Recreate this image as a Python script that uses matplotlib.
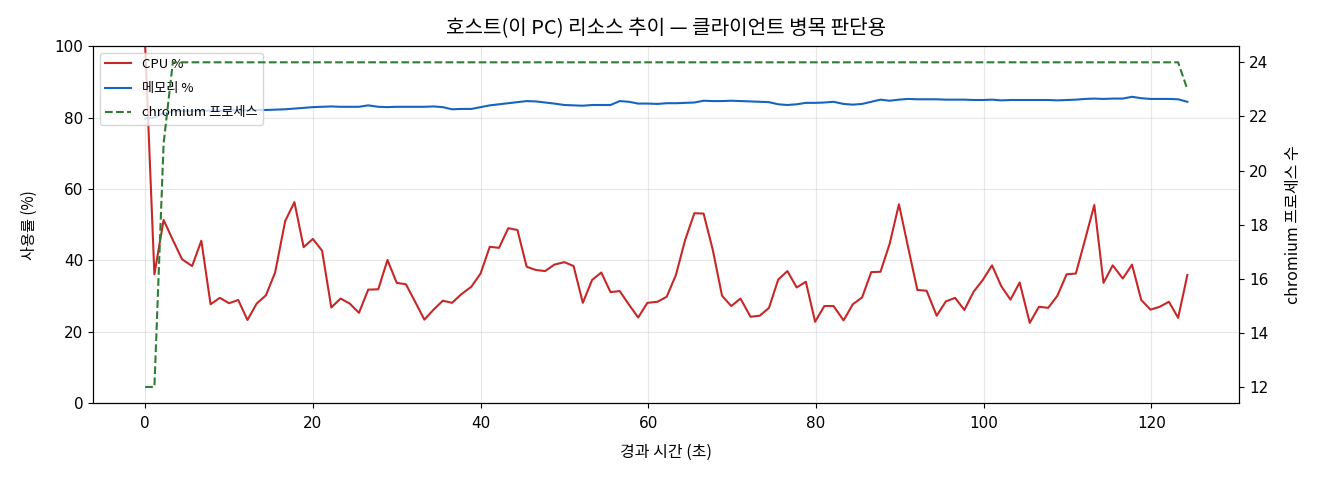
import matplotlib
matplotlib.use('Agg')
import matplotlib.pyplot as plt

plt.rcParams['font.family'] = ['Noto Sans CJK KR', 'DejaVu Sans']
plt.rcParams['axes.unicode_minus'] = False

# ── data ──────────────────────────────────────────────────────
elapsed = [0.0, 1.1, 2.2, 3.3, 4.4, 5.6, 6.7, 7.8, 8.9, 10.0,
           11.1, 12.2, 13.3, 14.4, 15.5, 16.7, 17.8, 18.9, 20.0, 21.1,
           22.2, 23.3, 24.4, 25.5, 26.6, 27.8, 28.9, 30.0, 31.1, 32.2,
           33.3, 34.4, 35.5, 36.6, 37.7, 38.9, 40.0, 41.1, 42.2, 43.3,
           44.4, 45.5, 46.6, 47.7, 48.8, 50.0, 51.1, 52.2, 53.3, 54.4,
           55.5, 56.6, 57.7, 58.8, 59.9, 61.1, 62.2, 63.3, 64.4, 65.5,
           66.6, 67.7, 68.8, 69.9, 71.0, 72.2, 73.3, 74.4, 75.5, 76.6,
           77.7, 78.8, 79.9, 81.0, 82.1, 83.3, 84.4, 85.5, 86.6, 87.7,
           88.8, 89.9, 91.0, 92.1, 93.2, 94.4, 95.5, 96.6, 97.7, 98.8,
           99.9, 101.0, 102.1, 103.2, 104.3, 105.5, 106.6, 107.7, 108.8, 109.9,
           111.0, 112.1, 113.2, 114.3, 115.4, 116.6, 117.7, 118.8, 119.9, 121.0,
           122.1, 123.2, 124.3]

cpu_pct = [100.0, 36.1, 51.3, 45.7, 40.3, 38.4, 45.5, 27.7, 29.5, 28.0,
           28.9, 23.3, 27.9, 30.2, 36.6, 51.0, 56.3, 43.7, 46.0, 42.7,
           26.8, 29.3, 27.9, 25.3, 31.8, 31.9, 40.1, 33.7, 33.3, 28.4,
           23.4, 26.2, 28.7, 28.1, 30.5, 32.6, 36.3, 43.8, 43.5, 49.0,
           48.5, 38.2, 37.3, 37.0, 38.8, 39.5, 38.4, 28.1, 34.5, 36.6,
           31.1, 31.4, 27.6, 24.0, 28.1, 28.4, 29.8, 35.9, 45.7, 53.2,
           53.1, 42.9, 30.1, 27.2, 29.3, 24.2, 24.5, 26.7, 34.6, 37.0,
           32.4, 34.0, 22.8, 27.2, 27.2, 23.2, 27.7, 29.6, 36.7, 36.8,
           44.7, 55.7, 43.6, 31.7, 31.5, 24.5, 28.5, 29.5, 26.1, 31.2,
           34.5, 38.6, 32.8, 29.0, 33.8, 22.5, 27.0, 26.7, 30.1, 36.1,
           36.3, 45.8, 55.5, 33.7, 38.6, 34.9, 38.8, 28.9, 26.2, 27.0,
           28.4, 23.9, 35.9]

mem_pct = [79.7, 80.0, 81.2, 81.7, 81.8, 81.8, 81.9, 81.9, 81.9, 82.0,
           82.0, 82.0, 82.1, 82.1, 82.2, 82.3, 82.5, 82.7, 82.9, 83.0,
           83.1, 83.0, 83.0, 83.0, 83.4, 83.0, 82.9, 83.0, 83.0, 83.0,
           83.0, 83.1, 82.9, 82.3, 82.4, 82.4, 82.9, 83.4, 83.7, 84.0,
           84.3, 84.6, 84.5, 84.2, 83.9, 83.5, 83.4, 83.3, 83.5, 83.5,
           83.5, 84.6, 84.4, 83.9, 83.9, 83.8, 84.0, 84.0, 84.1, 84.2,
           84.7, 84.6, 84.6, 84.7, 84.6, 84.5, 84.4, 84.3, 83.7, 83.5,
           83.7, 84.1, 84.1, 84.2, 84.4, 83.8, 83.6, 83.8, 84.4, 85.0,
           84.7, 85.0, 85.2, 85.1, 85.1, 85.1, 85.0, 85.0, 85.0, 84.9,
           84.9, 85.0, 84.8, 84.9, 84.9, 84.9, 84.9, 84.9, 84.8, 84.9,
           85.0, 85.2, 85.3, 85.2, 85.3, 85.3, 85.8, 85.4, 85.2, 85.2,
           85.2, 85.1, 84.4]

chromium_procs = [12, 12, 21] + [24] * 109 + [23]

# ── plot ──────────────────────────────────────────────────────
fig, ax = plt.subplots(figsize=(13.2, 4.8), dpi=100)
fig.subplots_adjust(left=0.0705, right=0.939, top=0.904, bottom=0.16)

l1, = ax.plot(elapsed, cpu_pct, color="#c62828", linewidth=1.5, label="CPU %")
l2, = ax.plot(elapsed, mem_pct, color="#1565c0", linewidth=1.5, label="메모리 %")
ax.set_ylim(0, 100)
ax.set_xlabel("경과 시간 (초)", fontsize=11.5, labelpad=9)
ax.set_ylabel("사용률 (%)", fontsize=11, labelpad=12)
ax.grid(alpha=0.3)

ax2 = ax.twinx()
l3, = ax2.plot(elapsed, chromium_procs, color="#2e7d32", linewidth=1.5,
               linestyle="--", label="chromium 프로세스")
ax2.set_ylabel("chromium 프로세스 수", fontsize=11.5, labelpad=12)

for a in (ax, ax2):
    a.tick_params(labelsize=11)
    for lab in a.get_xticklabels() + a.get_yticklabels():
        lab.set_family("DejaVu Sans")
ax.tick_params(axis="x", pad=6)

ax.legend(handles=[l1, l2, l3], loc="upper left", fontsize=9.5, labelspacing=0.85)
ax.set_title("호스트(이 PC) 리소스 추이 — 클라이언트 병목 판단용", fontsize=14.5, pad=9)

plt.savefig("out.png", dpi=100)
plt.close()
